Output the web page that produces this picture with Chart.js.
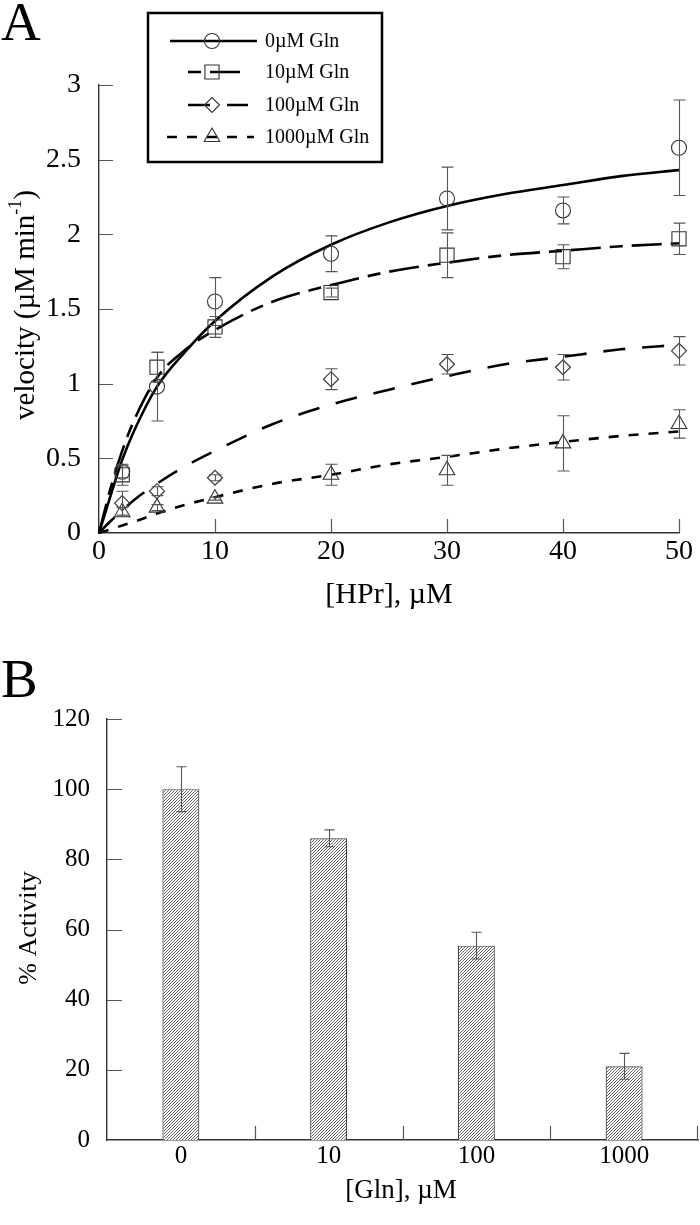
<!DOCTYPE html>
<html>
<head>
<meta charset="utf-8">
<script src="https://cdn.jsdelivr.net/npm/chart.js@4.4.1/dist/chart.umd.min.js"></script>
<style>
  body { margin: 0; background: #fff; }
  #wrap { position: relative; width: 700px; height: 1225px; }
  canvas { position: absolute; left: 0; }
</style>
</head>
<body>
<div id="wrap">
  <canvas id="chartA" width="700" height="620" style="top:0"></canvas>
  <canvas id="chartB" width="700" height="605" style="top:620px"></canvas>
</div>
<script>
// ===============================
// Data panel A (kinetics)
// ===============================
const hprConc = [2, 5, 10, 20, 30, 40, 50];

const vel0 = [0.41, 0.98, 1.55, 1.87, 2.24, 2.16, 2.58];
const err0 = [0.04, 0.23, 0.16, 0.12, 0.21, 0.09, 0.32];
const vel10 = [0.39, 1.11, 1.38, 1.61, 1.86, 1.85, 1.97];
const err10 = [0.07, 0.1, 0.07, 0.03, 0.15, 0.08, 0.105];
const vel100 = [0.2, 0.28, 0.37, 1.03, 1.13, 1.11, 1.22];
const err100 = [0.08, 0.03, 0.02, 0.07, 0.065, 0.085, 0.095];
const vel1000 = [0.14, 0.17, 0.23, 0.39, 0.42, 0.6, 0.73];
const err1000 = [0.03, 0.02, 0.01, 0.07, 0.1, 0.185, 0.095];

// fitted curves
const fitConc = [0, 1, 2, 3, 5, 7.5, 10, 15, 20, 25, 30, 35, 40, 45, 50];
const fit0 = [0, 0.25, 0.49, 0.68, 0.98, 1.22, 1.42, 1.72, 1.93, 2.08, 2.19, 2.27, 2.33, 2.39, 2.43];
const fit10 = [0, 0.3, 0.55, 0.75, 1.04, 1.23, 1.36, 1.55, 1.66, 1.75, 1.81, 1.86, 1.89, 1.92, 1.94];
const fit100 = [0, 0.08, 0.15, 0.22, 0.33, 0.45, 0.55, 0.73, 0.86, 0.96, 1.05, 1.13, 1.18, 1.23, 1.26];
const fit1000 = [0, 0.025, 0.05, 0.075, 0.13, 0.19, 0.24, 0.33, 0.39, 0.46, 0.51, 0.565, 0.61, 0.65, 0.68];

const seriesLabels = ["0\u00b5M Gln", "10\u00b5M Gln", "100\u00b5M Gln", "1000\u00b5M Gln"];
const velocityTicks = [0, 0.5, 1, 1.5, 2, 2.5, 3];
const hprTicks = [0, 10, 20, 30, 40, 50];

// ===============================
// Data panel B (% activity)
// ===============================
const glnCategories = ["0", "10", "100", "1000"];
const activity = [100, 86, 55.4, 21];
const activityErr = [6.4, 2.4, 3.8, 3.7];
const activityTicks = [0, 20, 40, 60, 80, 100, 120];

const FONT = "'Liberation Serif', 'Times New Roman', serif";
Chart.defaults.font.family = FONT;
Chart.defaults.color = "#000";

function toXY(xs, ys) {
    return xs.map((x, i) => ({ x: x, y: ys[i] }));
}

// marker styles / dash styles per series
const markerStyles = [
    { pointStyle: "circle", radius: 7.5 },
    { pointStyle: "rect", radius: 10 },
    { pointStyle: "rectRot", radius: 7.5 },
    { pointStyle: "triangle", radius: 9 }
];
const dashStyles = [[], [30, 9, 13, 9], [22, 17], [10, 10]];
// legend sample: start, end, dash offset
const legendSpan = [[170, 257, 0], [188, 248, 39], [188, 248, 0], [167, 254, 0]];

function drawMarker(ctx, style, r, x, y) {
    ctx.beginPath();
    if (style === "circle") {
        ctx.arc(x, y, r, 0, Math.PI * 2);
    } else if (style === "rect") {
        const s = r * Math.SQRT1_2;
        ctx.rect(x - s, y - s, 2 * s, 2 * s);
    } else if (style === "rectRot") {
        ctx.moveTo(x - r, y); ctx.lineTo(x, y - r);
        ctx.lineTo(x + r, y); ctx.lineTo(x, y + r);
        ctx.closePath();
    } else {
        ctx.moveTo(x, y - r);
        ctx.lineTo(x + r * Math.sin(Math.PI * 2 / 3), y + r / 2);
        ctx.lineTo(x - r * Math.sin(Math.PI * 2 / 3), y + r / 2);
        ctx.closePath();
    }
    ctx.stroke();
}

// ===============================
// Panel A plugins
// ===============================
const decorA = {
    id: "decorA",
    afterDatasetsDraw(chart) {
        const ctx = chart.ctx, xS = chart.scales.x, yS = chart.scales.y;
        ctx.save();
        ctx.strokeStyle = "#555";
        ctx.lineWidth = 1.1;
        chart.data.datasets.forEach(ds => {
            if (!ds.errors) return;
            ds.data.forEach((p, i) => {
                const px = Math.round(xS.getPixelForValue(p.x)) + 0.5;
                const top = yS.getPixelForValue(p.y + ds.errors[i]);
                const bot = yS.getPixelForValue(p.y - ds.errors[i]);
                ctx.beginPath();
                ctx.moveTo(px, top); ctx.lineTo(px, bot);
                ctx.moveTo(px - 6, top); ctx.lineTo(px + 6, top);
                ctx.moveTo(px - 6, bot); ctx.lineTo(px + 6, bot);
                ctx.stroke();
            });
        });
        ctx.restore();
    },
    afterDraw(chart) {
        const ctx = chart.ctx, area = chart.chartArea;
        const xS = chart.scales.x, yS = chart.scales.y;
        ctx.save();
        // inward ticks
        ctx.strokeStyle = "#555";
        ctx.lineWidth = 1.2;
        ctx.beginPath();
        xS.ticks.forEach(t => {
            if (t.value === 0) return;
            const px = Math.round(xS.getPixelForValue(t.value)) + 0.5;
            ctx.moveTo(px, area.bottom); ctx.lineTo(px, area.bottom - 14);
        });
        yS.ticks.forEach(t => {
            if (t.value === 0) return;
            const py = Math.round(yS.getPixelForValue(t.value)) + 0.5;
            ctx.moveTo(area.left, py); ctx.lineTo(area.left + 14, py);
        });
        ctx.stroke();

        // panel letter
        ctx.fillStyle = "#000";
        ctx.font = "55px " + FONT;
        ctx.textAlign = "left";
        ctx.textBaseline = "alphabetic";
        ctx.fillText("A", 1, 40);

        // x title
        ctx.font = "30px " + FONT;
        ctx.textAlign = "center";
        ctx.fillText("[HPr], \u00b5M", 389, 603);

        // y title with superscript
        ctx.translate(26, 305);
        ctx.rotate(-Math.PI / 2);
        ctx.textAlign = "left";
        ctx.textBaseline = "middle";
        const main = "velocity (\u00b5M min";
        ctx.font = "29px " + FONT;
        const w1 = ctx.measureText(main).width;
        const w3 = ctx.measureText(")").width;
        ctx.font = "18px " + FONT;
        const w2 = ctx.measureText("-1").width;
        let x0 = -(w1 + w2 + w3) / 2;
        ctx.font = "29px " + FONT;
        ctx.fillText(main, x0, 0);
        ctx.font = "18px " + FONT;
        ctx.fillText("-1", x0 + w1, -10);
        ctx.font = "29px " + FONT;
        ctx.fillText(")", x0 + w1 + w2, 0);
        ctx.restore();

        // legend box
        ctx.save();
        ctx.strokeStyle = "#000";
        ctx.lineWidth = 2.5;
        ctx.strokeRect(148, 13, 234, 149);
        const rows = [41, 72, 105, 137];
        seriesLabels.forEach((label, i) => {
            const y = rows[i];
            ctx.strokeStyle = "#000";
            ctx.lineWidth = 2.6;
            ctx.setLineDash(dashStyles[i]);
            ctx.lineDashOffset = legendSpan[i][2];
            ctx.beginPath();
            ctx.moveTo(legendSpan[i][0], y); ctx.lineTo(legendSpan[i][1], y);
            ctx.stroke();
            ctx.setLineDash([]);
            ctx.strokeStyle = "#333";
            ctx.lineWidth = 1.1;
            drawMarker(ctx, markerStyles[i].pointStyle, markerStyles[i].radius, 212, y);
            ctx.fillStyle = "#000";
            ctx.font = "20px " + FONT;
            ctx.textAlign = "left";
            ctx.textBaseline = "middle";
            ctx.fillText(label, 265, y + 1);
        });
        ctx.restore();
    }
};

const pointSets = [vel0, vel10, vel100, vel1000];
const errSets = [err0, err10, err100, err1000];
const fitSets = [fit0, fit10, fit100, fit1000];

const datasetsA = [];
pointSets.forEach((vals, i) => {
    datasetsA.push({
        label: seriesLabels[i],
        data: toXY(hprConc, vals),
        errors: errSets[i],
        showLine: false,
        clip: false,
        pointStyle: markerStyles[i].pointStyle,
        pointRadius: markerStyles[i].radius,
        pointBorderColor: "#333",
        pointBackgroundColor: "rgba(0,0,0,0)",
        pointBorderWidth: 1.1
    });
});
fitSets.forEach((vals, i) => {
    datasetsA.push({
        label: seriesLabels[i] + " fit",
        data: toXY(fitConc, vals),
        showLine: true,
        clip: false,
        borderColor: "#000",
        borderWidth: 2.6,
        borderDash: dashStyles[i],
        pointRadius: 0,
        cubicInterpolationMode: "monotone"
    });
});

new Chart(document.getElementById("chartA"), {
    type: "scatter",
    data: { datasets: datasetsA },
    options: {
        responsive: false,
        animation: false,
        devicePixelRatio: 1,
        layout: { padding: { left: 0, right: 21, top: 85, bottom: 0 } },
        plugins: { legend: { display: false }, tooltip: { enabled: false } },
        scales: {
            x: {
                type: "linear",
                position: "bottom",
                min: 0,
                max: 50,
                afterBuildTicks: s => { s.ticks = hprTicks.map(v => ({ value: v })); },
                afterFit: s => { s.height = 87; },
                grid: { display: false, drawTicks: false },
                border: { display: true, color: "#333", width: 1.4 },
                ticks: { font: { size: 28 }, color: "#000", padding: 2, maxRotation: 0,
                         callback: v => String(v) }
            },
            y: {
                type: "linear",
                min: 0,
                max: 3,
                afterBuildTicks: s => { s.ticks = velocityTicks.map(v => ({ value: v })); },
                afterFit: s => { s.width = 99; },
                grid: { display: false, drawTicks: false },
                border: { display: true, color: "#333", width: 1.4 },
                ticks: { font: { size: 28 }, color: "#000", padding: 18,
                         callback: v => String(v) }
            }
        }
    },
    plugins: [decorA]
});

// ===============================
// Panel B
// ===============================
function hatchPattern() {
    const c = document.createElement("canvas");
    c.width = 3; c.height = 3;
    const g = c.getContext("2d");
    g.fillStyle = "#fff";
    g.fillRect(0, 0, 3, 3);
    g.fillStyle = "#666";
    for (let i = 0; i < 3; i++) g.fillRect(i, 2 - i, 1, 1);
    return g.createPattern(c, "repeat");
}

const decorB = {
    id: "decorB",
    afterDatasetsDraw(chart) {
        const ctx = chart.ctx, yS = chart.scales.y;
        const meta = chart.getDatasetMeta(0);
        ctx.save();
        ctx.strokeStyle = "#555";
        ctx.lineWidth = 1.1;
        meta.data.forEach((bar, i) => {
            const px = Math.round(bar.x) + 0.5;
            const top = yS.getPixelForValue(activity[i] + activityErr[i]);
            const bot = yS.getPixelForValue(activity[i] - activityErr[i]);
            ctx.beginPath();
            ctx.moveTo(px, top); ctx.lineTo(px, bot);
            ctx.moveTo(px - 5, top); ctx.lineTo(px + 5, top);
            ctx.moveTo(px - 5, bot); ctx.lineTo(px + 5, bot);
            ctx.stroke();
        });
        ctx.restore();
    },
    afterDraw(chart) {
        const ctx = chart.ctx, area = chart.chartArea;
        const xS = chart.scales.x, yS = chart.scales.y;
        ctx.save();
        ctx.strokeStyle = "#555";
        ctx.lineWidth = 1.2;
        ctx.beginPath();
        yS.ticks.forEach(t => {
            if (t.value === 0) return;
            const py = Math.round(yS.getPixelForValue(t.value)) + 0.5;
            ctx.moveTo(area.left, py); ctx.lineTo(area.left + 15, py);
        });
        // category boundaries
        for (let i = 0; i < glnCategories.length; i++) {
            let px;
            if (i < glnCategories.length - 1) {
                px = (xS.getPixelForValue(i) + xS.getPixelForValue(i + 1)) / 2;
            } else {
                px = area.right - 1;
            }
            px = Math.round(px) + 0.5;
            ctx.moveTo(px, area.bottom); ctx.lineTo(px, area.bottom - 14);
        }
        ctx.stroke();

        ctx.fillStyle = "#000";
        ctx.font = "55px " + FONT;
        ctx.textAlign = "left";
        ctx.textBaseline = "alphabetic";
        ctx.fillText("B", 1, 77);

        ctx.font = "27px " + FONT;
        ctx.textAlign = "center";
        ctx.fillText("[Gln], \u00b5M", 401, 578);

        ctx.translate(29, 308);
        ctx.rotate(-Math.PI / 2);
        ctx.font = "26px " + FONT;
        ctx.textAlign = "center";
        ctx.textBaseline = "middle";
        ctx.fillText("% Activity", 0, 0);
        ctx.restore();
    }
};

new Chart(document.getElementById("chartB"), {
    type: "bar",
    data: {
        labels: glnCategories,
        datasets: [{
            label: "% Activity",
            data: activity,
            backgroundColor: hatchPattern(),
            borderColor: "#444",
            borderWidth: 1.2,
            barPercentage: 0.25,
            categoryPercentage: 1
        }]
    },
    options: {
        responsive: false,
        animation: false,
        devicePixelRatio: 1,
        layout: { padding: { left: 0, right: 2, top: 99, bottom: 0 } },
        plugins: { legend: { display: false }, tooltip: { enabled: false } },
        scales: {
            x: {
                afterFit: s => { s.height = 85; },
                grid: { display: false, drawTicks: false },
                border: { display: true, color: "#333", width: 1.4 },
                ticks: { font: { size: 25 }, color: "#000", padding: 1 }
            },
            y: {
                min: 0,
                max: 120,
                afterBuildTicks: s => { s.ticks = activityTicks.map(v => ({ value: v })); },
                afterFit: s => { s.width = 107; },
                grid: { display: false, drawTicks: false },
                border: { display: true, color: "#333", width: 1.4 },
                ticks: { font: { size: 25 }, color: "#000", padding: 17,
                         callback: (v, i) => activityTicks[i] !== undefined ? String(activityTicks[i]) : String(v) }
            }
        }
    },
    plugins: [decorB]
});
</script>
</body>
</html>
